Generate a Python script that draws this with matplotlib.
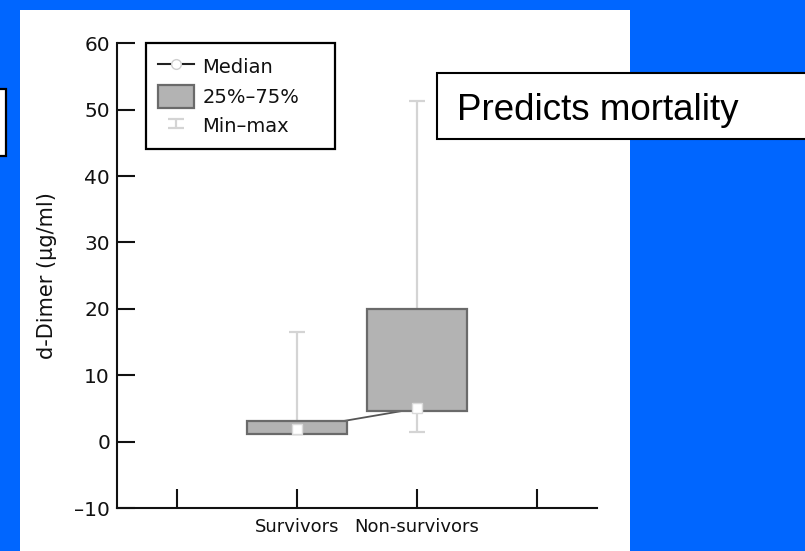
import matplotlib
matplotlib.use("Agg")
import matplotlib.pyplot as plt
from matplotlib.patches import Rectangle, Patch
from matplotlib.lines import Line2D
from matplotlib.legend_handler import HandlerErrorbar

# ---- data ----
categories = ["Survivors", "Non-survivors"]
cat_pos = [2, 3]
q1 = [1.1, 4.6]
q3 = [3.1, 20.0]
median = [1.9, 5.0]
vmin = [1.2, 1.5]
vmax = [16.5, 51.3]
x_ticks = [1, 2, 3, 4]
x_ticklabels = ["", "Survivors", "Non-survivors", ""]
y_ticks = [-10, 0, 10, 20, 30, 40, 50, 60]
y_ticklabels = ["–10", "0", "10", "20", "30", "40", "50", "60"]
ylabel = "d-Dimer (µg/ml)"
legend_labels = ["Median", "25%–75%", "Min–max"]
callout = "Predicts mortality"

W, H = 805, 551
fig = plt.figure(figsize=(W / 100, H / 100), dpi=100)
fig.patch.set_facecolor("#0066FF")

def fx(px):
    return px / W

def fy(py):
    return (H - py) / H

# white panel
fig.add_artist(Rectangle((fx(20), 0), fx(610), 1 - 10 / H, transform=fig.transFigure,
                         facecolor="white", edgecolor="none", zorder=-5))
# partial box at left edge
fig.add_artist(Rectangle((fx(-20), fy(156)), fx(26), 67 / H, transform=fig.transFigure,
                         facecolor="white", edgecolor="black", lw=1.6, zorder=-4))

ax = fig.add_axes([fx(117), fy(508), 480 / W, (508 - 43.3) / H])
ax.set_facecolor("none")

# whiskers (min-max)
lo = [m - a for m, a in zip(median, vmin)]
hi = [b - m for m, b in zip(median, vmax)]
eb = ax.errorbar(cat_pos, median, yerr=[lo, hi], fmt="none", ecolor="#d4d4d4",
                 elinewidth=1.6, capsize=5.8, capthick=1.6, zorder=1)

# median connecting line
ax.plot(cat_pos, median, color="#555555", lw=1.3, zorder=1.5)

# boxes
ax.bar(cat_pos, [b - a for a, b in zip(q1, q3)], bottom=q1, width=0.835,
       color="#b3b3b3", edgecolor="#6a6a6a", linewidth=1.6, zorder=2)

# median markers
ax.plot(cat_pos, median, linestyle="none", marker="s", markersize=7,
        markerfacecolor="white", markeredgecolor="#dadada", markeredgewidth=1, zorder=3)

ax.set_xlim(0.5, 4.5)
ax.set_ylim(-10, 60)
ax.set_xticks(x_ticks)
ax.set_xticklabels(x_ticklabels, fontsize=13, color="#111111")
ax.set_yticks(y_ticks)
ax.set_yticklabels(y_ticklabels, fontsize=14.5, color="#111111")
ax.tick_params(axis="both", direction="in", width=1.5, color="#111111")
ax.tick_params(axis="y", length=13, pad=5)
ax.tick_params(axis="x", length=13.5, pad=7)
for s in ("top", "right"):
    ax.spines[s].set_visible(False)
for s in ("left", "bottom"):
    ax.spines[s].set_linewidth(1.5)
    ax.spines[s].set_color("#111111")

ax.set_ylabel(ylabel, fontsize=15, color="#111111")
ax.yaxis.set_label_coords(-0.125, 0.5)

# legend
h_med = Line2D([], [], color="#222222", lw=1.5, marker="o", markersize=7,
               markerfacecolor="white", markeredgecolor="#cfcfcf")
h_box = Patch(facecolor="#b3b3b3", edgecolor="#6a6a6a", linewidth=1.6)
leg = ax.legend([h_med, h_box, eb], legend_labels, fontsize=14,
                loc="upper left", bbox_to_anchor=(fx(146), fy(145), 189 / W, 102 / H),
                bbox_transform=fig.transFigure, mode="expand", borderaxespad=0,
                frameon=True, fancybox=False, framealpha=1, edgecolor="black",
                handlelength=1.85, handleheight=1.45, handletextpad=0.46,
                labelspacing=0.35, borderpad=0.6,
                handler_map={type(eb): HandlerErrorbar(xerr_size=0.25, yerr_size=0.25)})
leg.get_frame().set_linewidth(1.6)
for t in leg.get_texts():
    t.set_color("#111111")

# callout box
fig.add_artist(Rectangle((fx(437), fy(139)), fx(420), 66 / H, transform=fig.transFigure,
                         facecolor="white", edgecolor="black", lw=1.5, zorder=5))
fig.text(fx(457), fy(120), callout, fontsize=26.5, family="Liberation Sans",
         va="baseline", ha="left", color="black", zorder=6)

fig.savefig("out.png", dpi=100, facecolor=fig.get_facecolor())
